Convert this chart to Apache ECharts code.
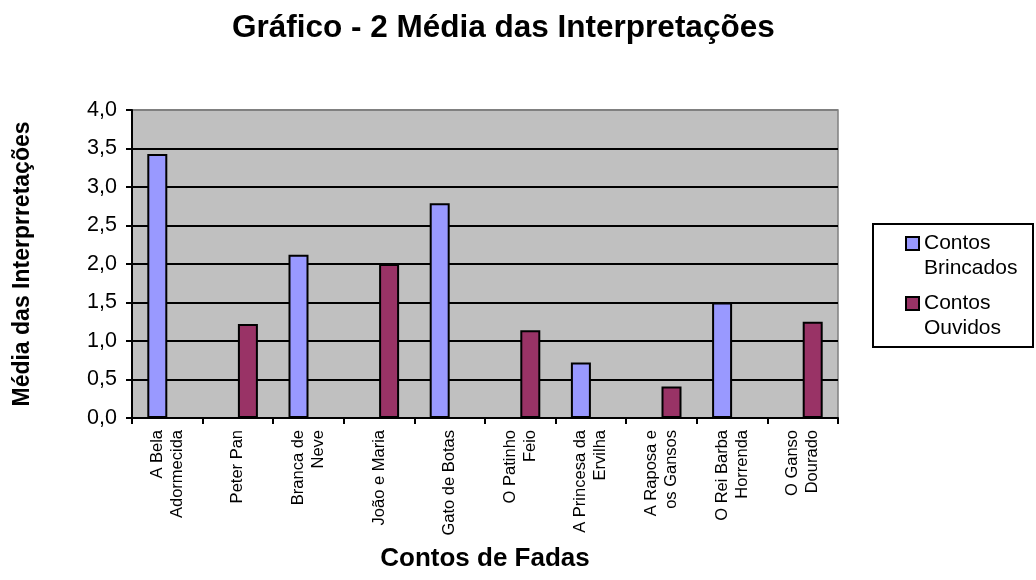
<!DOCTYPE html>
<html><head><meta charset="utf-8">
<script src="https://cdn.jsdelivr.net/npm/echarts@6/dist/echarts.min.js"></script>
<style>html,body{margin:0;padding:0;background:#fff}#c{width:1036px;height:580px}</style>
</head><body><div id="c"></div>
<script>
const categories = ['A Bela\nAdormecida','Peter Pan','Branca de\nNeve','João e Maria','Gato de Botas','O Patinho\nFeio','A Princesa da\nErvilha','A Raposa e\nos Gansos','O Rei Barba\nHorrenda','O Ganso\nDourado'];
const brincados = [3.43, null, 2.12, null, 2.79, null, 0.72, null, 1.5, null];
const ouvidos = [null, 1.22, null, 2.0, null, 1.14, null, 0.41, null, 1.25];
const seriesNames = ['Contos\nBrincados', 'Contos\nOuvidos'];
const titleText = 'Gráfico - 2 Média das Interpretações';
const xName = 'Contos de Fadas';
const yName = 'Média das Interprretações';

const F = 'Arial, "Liberation Sans", sans-serif';
const legendText = {fontFamily: F, fontSize: 21, color: '#000', lineHeight: 25};
const legendBase = {orient: 'vertical', left: 905, itemWidth: 13, itemHeight: 13, itemGap: 0, padding: 0,
  icon: 'rect', z: 5, textStyle: legendText, itemStyle: {borderColor: '#000', borderWidth: 2},
  formatter: n => ' \n' + n};
const chart = echarts.init(document.getElementById('c'), null, {renderer:'canvas'});
chart.setOption({
  animation: false,
  backgroundColor: '#fff',
  title: {text: titleText, left: 232, top: 12, padding: 0,
    textStyle: {fontFamily: F, fontSize: 31.5, fontWeight: 'bold', color: '#000'}},
  grid: {left: 132, right: 198, top: 110, bottom: 162, show: true, backgroundColor: '#C0C0C0', borderColor: '#808080', borderWidth: 1.5,
    outerBoundsMode: 'none', containLabel: false},
  graphic: [{type: 'rect', shape: {x: 873, y: 224, width: 160, height: 123}, style: {fill: '#fff', stroke: '#000', lineWidth: 2}, z: 0}],
  legend: [
    Object.assign({}, legendBase, {top: 206, data: [seriesNames[0]]}),
    Object.assign({}, legendBase, {top: 266, data: [seriesNames[1]]})
  ],
  xAxis: {type: 'category', data: categories,
    name: xName, nameLocation: 'middle', nameGap: 128, nameMoveOverlap: false,
    nameTextStyle: {fontFamily: F, fontSize: 26, fontWeight: 'bold', color: '#000'},
    axisLine: {lineStyle: {color: '#000', width: 2}},
    axisTick: {show: true, length: 6, lineStyle: {color: '#000', width: 2}},
    axisLabel: {rotate: 90, fontFamily: F, fontSize: 16.5, color: '#000', lineHeight: 20, margin: 12, interval: 0}},
  yAxis: {type: 'value', min: 0, max: 4, interval: 0.5,
    name: yName, nameLocation: 'middle', nameGap: 98, nameMoveOverlap: false,
    nameTextStyle: {fontFamily: F, fontSize: 23, fontWeight: 'bold', color: '#000'},
    axisLine: {show: true, lineStyle: {color: '#000', width: 2}},
    axisTick: {show: true, length: 6, lineStyle: {color: '#000', width: 2}},
    axisLabel: {fontFamily: F, fontSize: 21.5, color: '#000', margin: 15,
      formatter: v => v.toFixed(1).replace('.', ',')},
    splitLine: {show: true, lineStyle: {color: ['#000','#000','#000','#000','#000','#000','#000','#000','#808080'], width: 2}}},
  series: [
    {name: seriesNames[0], type: 'bar', data: brincados, barWidth: 20, barGap: '0%',
      itemStyle: {color: '#9999FF', borderColor: '#000', borderWidth: 2}},
    {name: seriesNames[1], type: 'bar', data: ouvidos, barWidth: 20, barGap: '0%',
      itemStyle: {color: '#993366', borderColor: '#000', borderWidth: 2}}
  ]
});
</script></body></html>
